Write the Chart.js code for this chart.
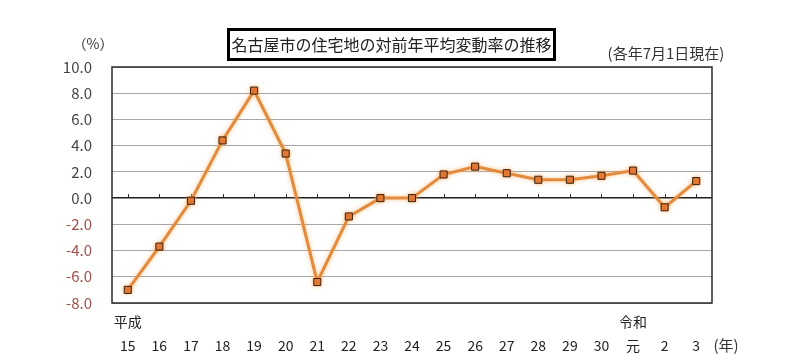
<!DOCTYPE html>
<html>
<head>
<meta charset="utf-8">
<script src="https://cdn.jsdelivr.net/npm/chart.js@4/dist/chart.umd.min.js"></script>
<style>
  html, body { margin: 0; padding: 0; background: #fff; }
  #wrap { width: 800px; height: 363px; }
</style>
</head>
<body>
<div id="wrap"><canvas id="rateChart" width="800" height="363"></canvas></div>
<script>
const years = ['15', '16', '17', '18', '19', '20', '21', '22', '23', '24', '25', '26', '27', '28', '29', '30', '元', '2', '3'];
const eras = ['平成', '', '', '', '', '', '', '', '', '', '', '', '', '', '', '', '令和', '', ''];
const rates = [-7.0, -3.7, -0.2, 4.4, 8.2, 3.4, -6.4, -1.4, 0.0, 0.0, 1.8, 2.4, 1.9, 1.4, 1.4, 1.7, 2.1, -0.7, 1.3];
const yTicks = [10, 8, 6, 4, 2, 0, -2, -4, -6, -8];

const JP = '"Noto Sans CJK JP", "Noto Sans", sans-serif';

/* ===== extra drawing: frame, zero-line ticks, title box, notes ===== */
const decor = {
    id: 'decor',
    beforeDatasetsDraw(chart) {
        const { ctx, chartArea: a, scales: { x, y } } = chart;
        ctx.save();
        ctx.strokeStyle = '#2a2a2a';
        ctx.lineWidth = 1.5;
        ctx.strokeRect(a.left, a.top, a.right - a.left, a.bottom - a.top);
        // small ticks on the zero line
        const y0 = y.getPixelForValue(0);
        ctx.lineWidth = 1;
        ctx.beginPath();
        years.forEach((_, i) => {
            const px = Math.round(x.getPixelForValue(i)) + 0.5;
            ctx.moveTo(px, y0);
            ctx.lineTo(px, y0 - 4);
        });
        ctx.stroke();
        ctx.restore();
    },
    beforeDatasetDraw(chart) {
        const ctx = chart.ctx;
        ctx.save();
        ctx.shadowColor = 'rgba(245,170,90,0.7)';
        ctx.shadowBlur = 4;
    },
    afterDatasetDraw(chart) {
        chart.ctx.restore();
    },
    afterDraw(chart) {
        const ctx = chart.ctx;
        ctx.save();
        // title box
        ctx.strokeStyle = '#000';
        ctx.lineWidth = 3;
        ctx.strokeRect(228.5, 29.5, 326, 30);
        ctx.fillStyle = '#222';
        ctx.font = '16px ' + JP;
        ctx.textAlign = 'center';
        ctx.textBaseline = 'middle';
        ctx.fillText('名古屋市の住宅地の対前年平均変動率の推移', 391.5, 44.5);
        // notes
        ctx.font = '14px ' + JP;
        ctx.fillStyle = '#333';
        ctx.fillText('（%）', 93, 44);
        ctx.font = '15px ' + JP;
        ctx.fillText('(各年7月1日現在)', 666, 53);
        ctx.fillText('(年)', 726, 345);
        ctx.restore();
    }
};

new Chart(document.getElementById('rateChart'), {
    type: 'line',
    data: {
        labels: years.map((yr, i) => [eras[i], yr]),
        datasets: [{
            data: rates,
            borderColor: '#e38a3c',
            borderWidth: 3,
            tension: 0,
            pointStyle: 'rect',
            pointRadius: 5,
            pointBackgroundColor: '#e0702c',
            pointBorderColor: '#3a2010',
            pointBorderWidth: 1
        }]
    },
    options: {
        responsive: false,
        animation: false,
        layout: { padding: { top: 67, right: 88, left: 0, bottom: 0 } },
        plugins: { legend: { display: false }, tooltip: { enabled: false } },
        scales: {
            x: {
                offset: true,
                grid: { display: false },
                border: { display: false },
                ticks: {
                    color: '#222',
                    font: { family: JP, size: 14, lineHeight: 1.75 },
                    maxRotation: 0,
                    autoSkip: false,
                    padding: -2
                },
                afterFit(scale) { scale.height = 60; }
            },
            y: {
                min: -8,
                max: 10,
                afterBuildTicks(scale) { scale.ticks = yTicks.map(v => ({ value: v })); },
                grid: {
                    drawTicks: false,
                    color: c => c.tick.value === 0 ? '#1e1e1e' : '#a6a6a6',
                    lineWidth: c => c.tick.value === 0 ? 1.5 : 1
                },
                border: { display: false },
                ticks: {
                    padding: 20,
                    font: { family: JP, size: 15 },
                    color: c => c.tick.value < 0 ? '#a0504c' : '#444',
                    callback: v => v.toFixed(1)
                },
                afterFit(scale) { scale.width = 112; }
            }
        }
    },
    plugins: [decor]
});
</script>
</body>
</html>
